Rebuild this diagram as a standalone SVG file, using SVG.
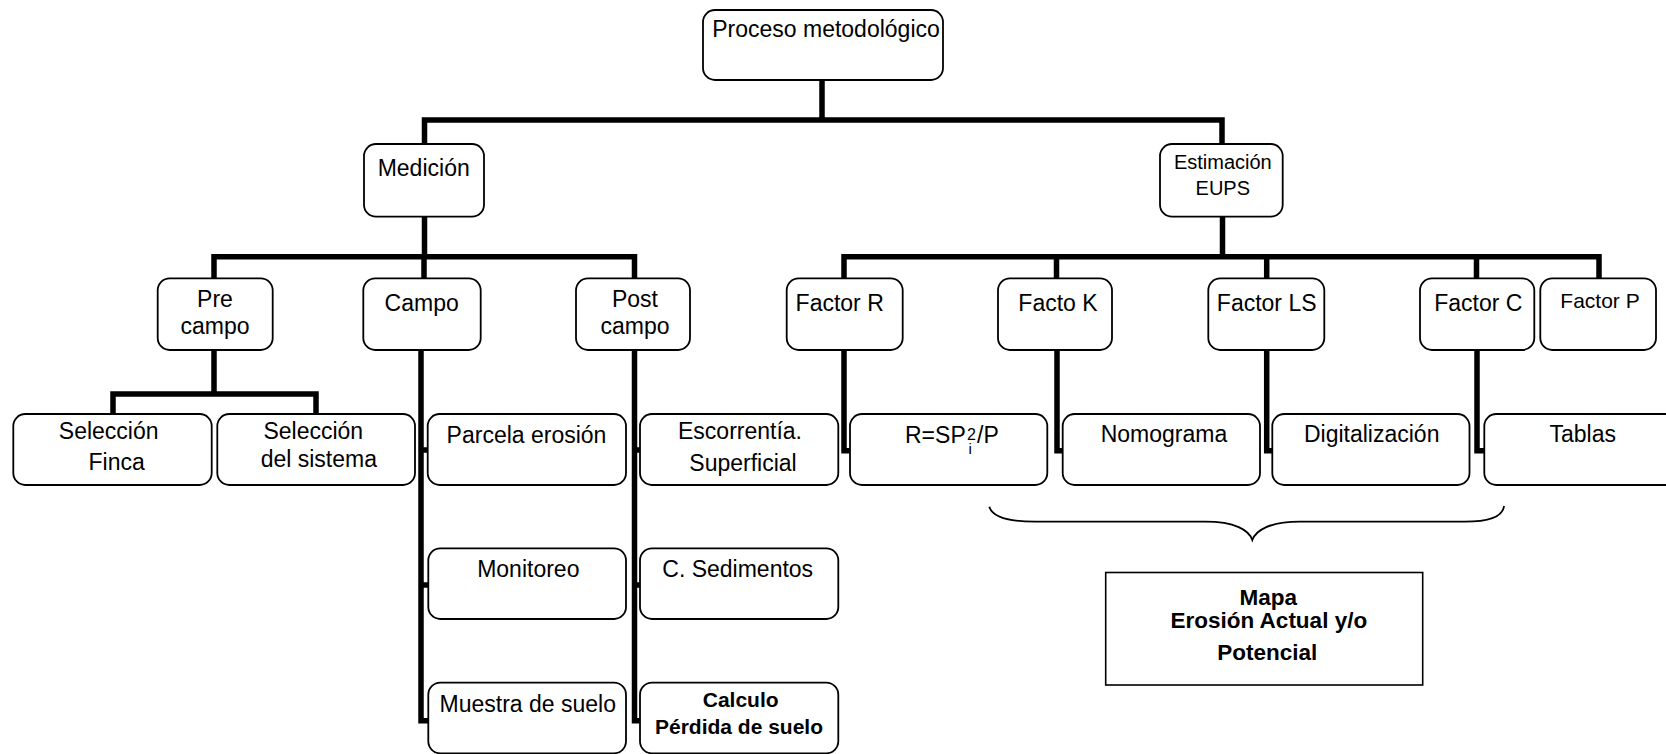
<svg xmlns="http://www.w3.org/2000/svg" width="1666" height="754" viewBox="0 0 1666 754">
<style>
.bx{fill:#fff;stroke:#000;stroke-width:1.8}
.sq{fill:#fff;stroke:#000;stroke-width:1.6}
.t{font-family:"Liberation Sans",Arial,sans-serif;font-size:23px;fill:#000;text-anchor:middle}
.b{font-weight:bold}
.c{fill:none;stroke:#000;stroke-width:5.5;stroke-linecap:butt;stroke-linejoin:miter}
.br{fill:none;stroke:#000;stroke-width:1.8}
</style>
<rect width="1666" height="754" fill="#fff"/>
<g id="connectors">
<path class="c" d="M822 80V120M424.5 144V120H1222V144"/>
<path class="c" d="M424.5 216.7V256.7M214 278.3V256.7H634.5V278.3M424 256.7V278.3"/>
<path class="c" d="M214 350V394M113 414V394H316V414"/>
<path class="c" d="M421 350V720.7H428.5M421 450H428.5M421 585H428.5"/>
<path class="c" d="M634.5 350V720.7H640.5M634.5 450H640.5M634.5 585H640.5"/>
<path class="c" d="M1222.5 216.7V256.7M844 278.3V256.7H1599V278.3M1056.5 256.7V278.3M1266.7 256.7V278.3M1476.5 256.7V278.3"/>
<path class="c" d="M844 350V450.7H850.5"/>
<path class="c" d="M1057 350V450.7H1063"/>
<path class="c" d="M1266.7 350V450.7H1272.5"/>
<path class="c" d="M1477 350V450.7H1484.5"/>
<path class="br" d="M989.3 506.7C992 516 1005 521.7 1035 521.7H1205C1235 521.7 1249 530 1252.3 540C1256 530 1270 521.7 1300 521.7H1465C1492 521.7 1503 515 1504 506"/>
</g>
<g id="n-proceso"><rect class="bx" x="703" y="10" width="240" height="70" rx="12"/><text class="t" x="826" y="37">Proceso metodológico</text></g>
<g id="n-medicion"><rect class="bx" x="364" y="144" width="120" height="72.7" rx="12"/><text class="t" x="423.7" y="176">Medición</text></g>
<g id="n-estimacion"><rect class="bx" x="1160" y="144" width="122.7" height="72.7" rx="12"/><text class="t" style="font-size:20px" x="1222.8" y="169">Estimación</text><text class="t" style="font-size:20px" x="1222.8" y="195">EUPS</text></g>
<g id="n-precampo"><rect class="bx" x="157.7" y="278.3" width="115" height="71.7" rx="12"/><text class="t" x="215" y="306.7">Pre</text><text class="t" x="215" y="334.3">campo</text></g>
<g id="n-campo"><rect class="bx" x="363.3" y="278.3" width="117.4" height="71.7" rx="12"/><text class="t" x="421.7" y="311">Campo</text></g>
<g id="n-postcampo"><rect class="bx" x="576" y="278.3" width="114" height="71.7" rx="12"/><text class="t" x="635" y="306.7">Post</text><text class="t" x="635" y="334.3">campo</text></g>
<g id="n-factorr"><rect class="bx" x="786.7" y="278.3" width="116" height="71.7" rx="12"/><text class="t" x="839.7" y="311">Factor R</text></g>
<g id="n-factok"><rect class="bx" x="998" y="278.3" width="114" height="71.7" rx="12"/><text class="t" x="1058" y="311">Facto K</text></g>
<g id="n-factorls"><rect class="bx" x="1208.3" y="278.3" width="116" height="71.7" rx="12"/><text class="t" x="1266.7" y="311">Factor LS</text></g>
<g id="n-factorc"><rect class="bx" x="1420" y="278.3" width="114.3" height="71.7" rx="12"/><text class="t" x="1478.3" y="311">Factor C</text></g>
<g id="n-factorp"><rect class="bx" x="1540.3" y="278.3" width="115.7" height="71.7" rx="12"/><text class="t" style="font-size:21px" x="1600" y="308.3">Factor P</text></g>
<g id="n-selfinca"><rect class="bx" x="13.3" y="414" width="198.4" height="71" rx="12"/><text class="t" x="108.7" y="439.3">Selección</text><text class="t" x="116.7" y="470">Finca</text></g>
<g id="n-selsistema"><rect class="bx" x="217.3" y="414" width="197.7" height="71" rx="12"/><text class="t" x="313.3" y="439.3">Selección</text><text class="t" x="318.8" y="466.7">del sistema</text></g>
<g id="n-parcela"><rect class="bx" x="427.7" y="414" width="198.3" height="71" rx="12"/><text class="t" x="526.5" y="442.7">Parcela erosión</text></g>
<g id="n-escorrentia"><rect class="bx" x="640" y="414" width="198.3" height="71" rx="12"/><text class="t" x="740" y="439.3">Escorrentía.</text><text class="t" x="743" y="471">Superficial</text></g>
<g id="n-formula"><rect class="bx" x="850" y="414" width="197.3" height="71" rx="12"/><text class="t" style="text-anchor:start" x="905" y="443.3">R=SP<tspan x="967" y="440" style="font-size:16px">2</tspan><tspan x="968.5" y="454" style="font-size:15px">i</tspan><tspan x="977" y="443.3">/P</tspan></text></g>
<g id="n-nomograma"><rect class="bx" x="1062.7" y="414" width="197.3" height="71" rx="12"/><text class="t" x="1164" y="441.7">Nomograma</text></g>
<g id="n-digitalizacion"><rect class="bx" x="1272.3" y="414" width="197.2" height="71" rx="12"/><text class="t" x="1371.7" y="441.7">Digitalización</text></g>
<g id="n-tablas"><rect class="bx" x="1484.3" y="414" width="200" height="71" rx="12"/><text class="t" x="1582.7" y="441.7">Tablas</text></g>
<g id="n-monitoreo"><rect class="bx" x="428.3" y="548.3" width="197.7" height="70.7" rx="12"/><text class="t" x="528.3" y="576.7">Monitoreo</text></g>
<g id="n-sedimentos"><rect class="bx" x="640" y="548.3" width="198.3" height="70.7" rx="12"/><text class="t" x="737.7" y="576.7">C. Sedimentos</text></g>
<g id="n-muestra"><rect class="bx" x="428.3" y="682.7" width="197.7" height="70.6" rx="12"/><text class="t" x="527.8" y="712.3">Muestra de suelo</text></g>
<g id="n-calculo"><rect class="bx" x="640" y="682.7" width="198.3" height="70.6" rx="12"/><text class="t b" style="font-size:21px" x="740.7" y="706.7">Calculo</text><text class="t b" style="font-size:21px" x="739" y="734">Pérdida de suelo</text></g>
<g id="n-mapa"><rect class="sq" x="1105.7" y="572.5" width="317" height="112.5"/><text class="t b" style="font-size:22.5px" x="1268.3" y="605">Mapa</text><text class="t b" style="font-size:22.5px" x="1268.8" y="628.3">Erosión Actual y/o</text><text class="t b" style="font-size:22.5px" x="1267.2" y="660">Potencial</text></g>
</svg>
